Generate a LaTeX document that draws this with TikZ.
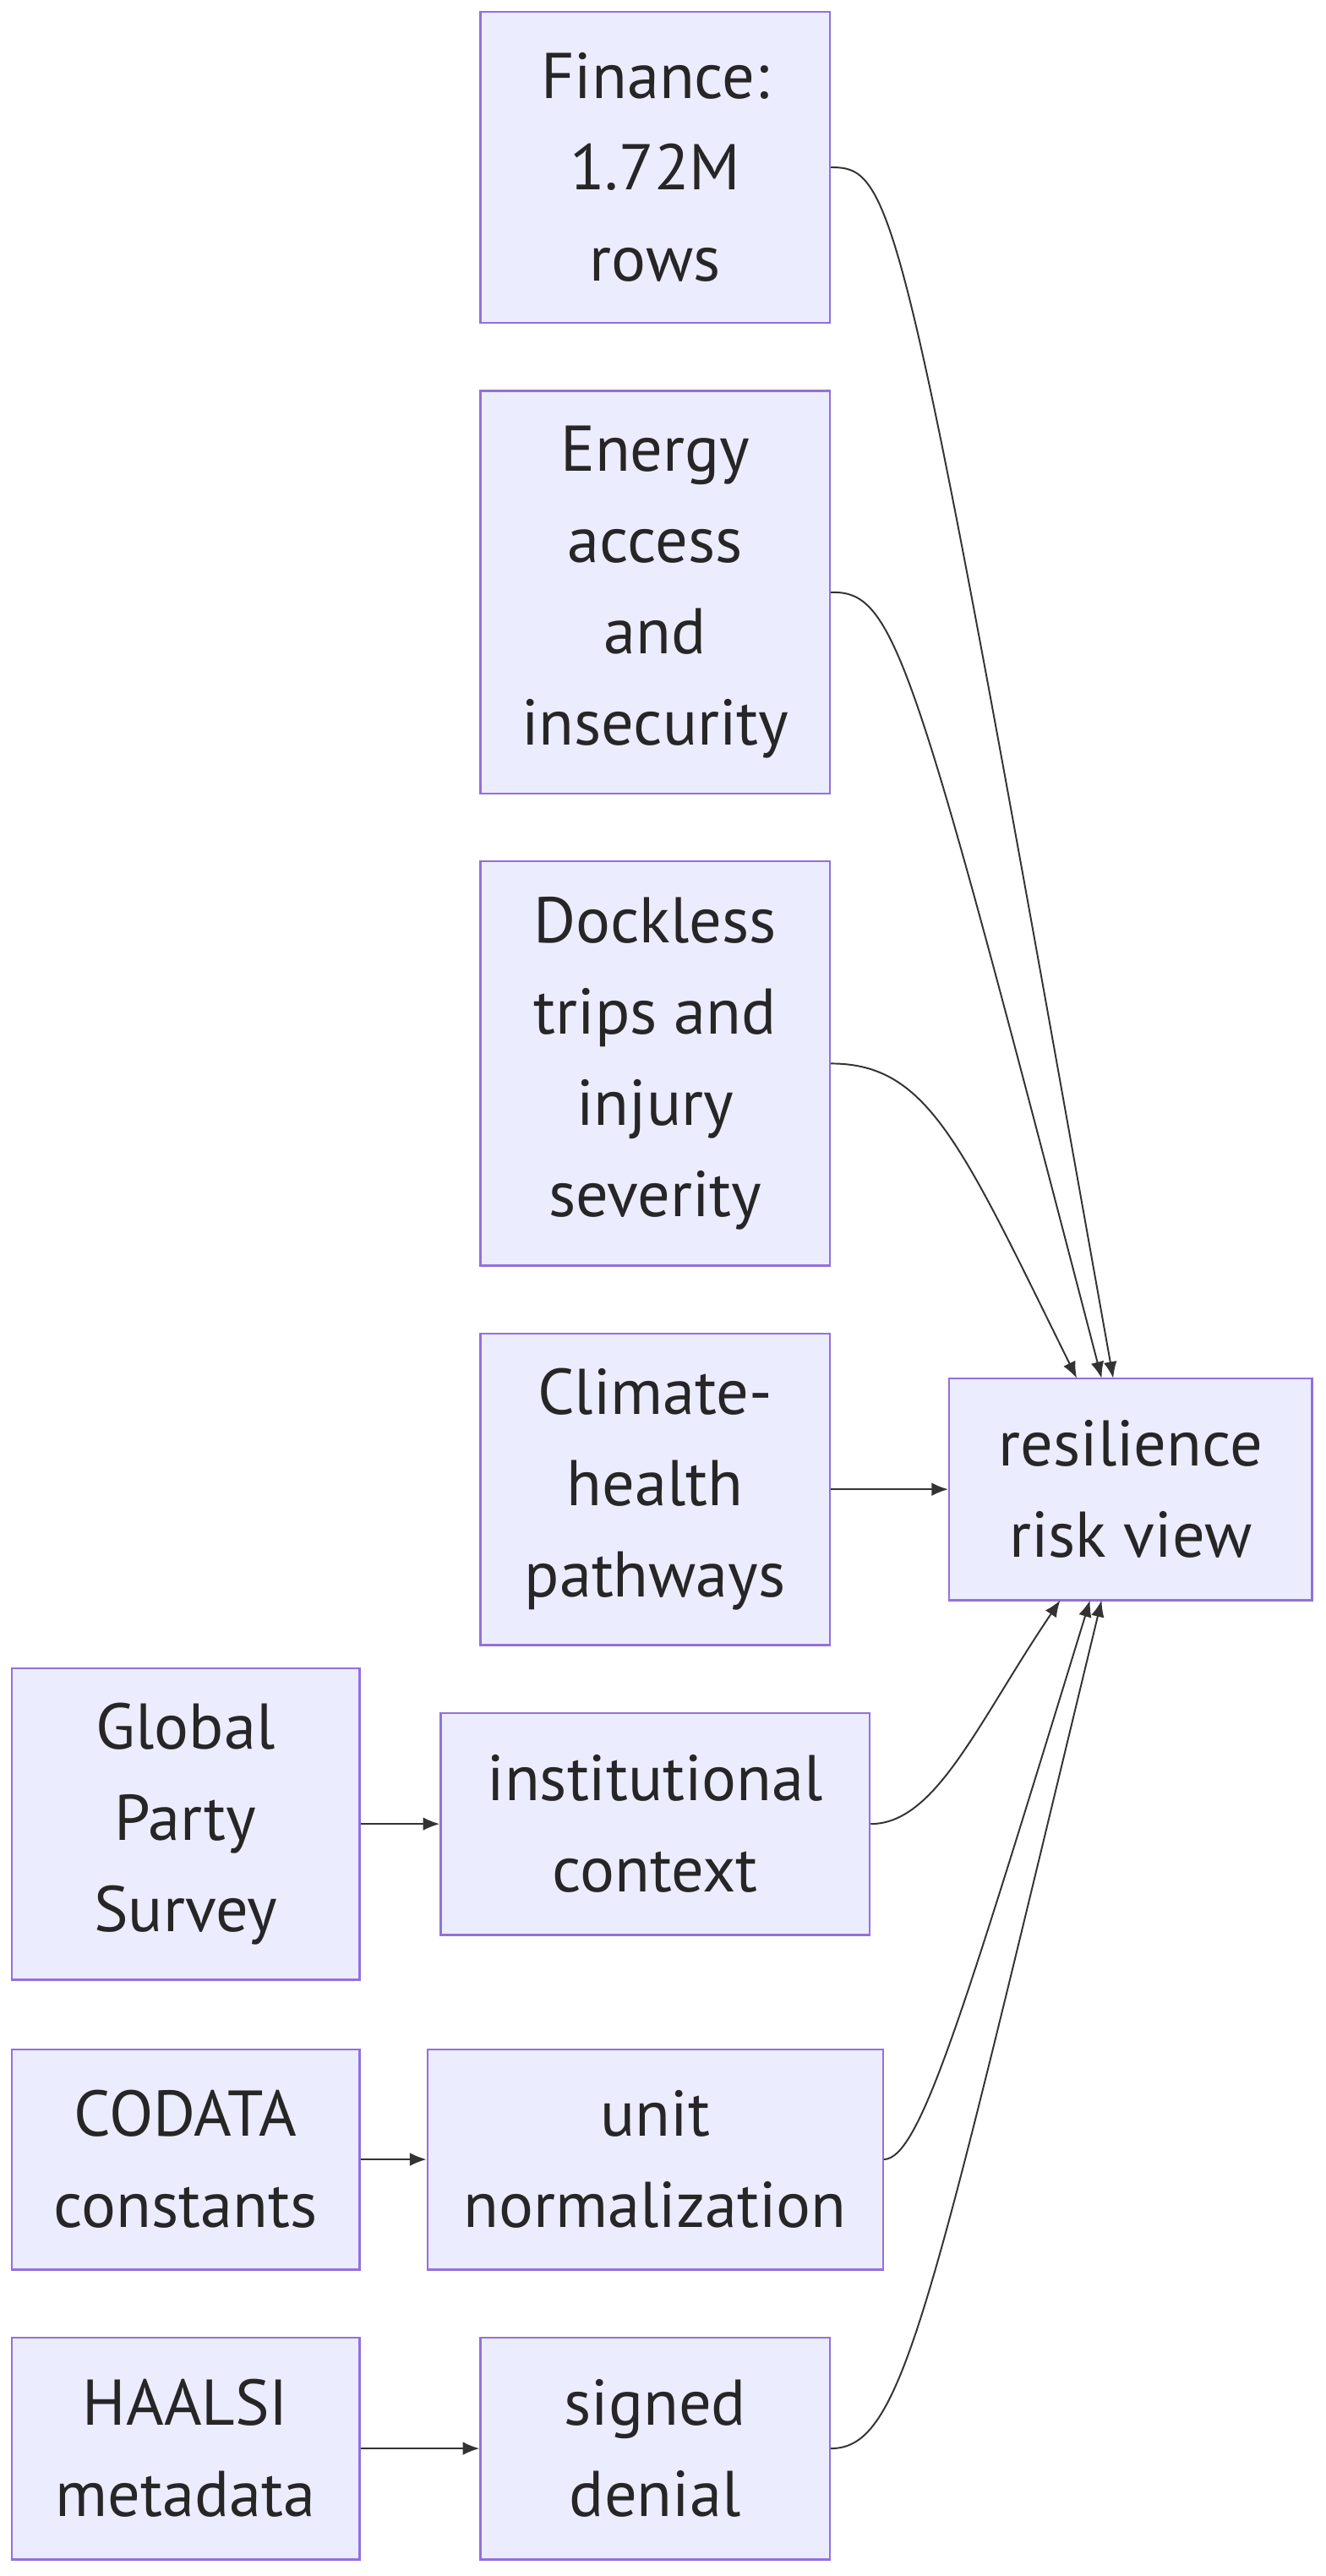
\documentclass[tikz,border=0pt]{standalone}
\usepackage{fontspec}
\setmainfont{PT Sans}
\usetikzlibrary{arrows.meta}
\definecolor{nfill}{HTML}{ECECFF}
\definecolor{nline}{HTML}{9370DB}
\definecolor{eline}{HTML}{333333}
\begin{document}
\begin{tikzpicture}[x=0.5pt,y=-0.5pt,
  box/.style={draw=nline,fill=nfill,line width=0.6pt,align=center,inner sep=0pt,
    font=\fontsize{19.5}{27.5}\selectfont,text=black!85},
  e/.style={draw=eline,line width=0.5pt,-{Latex[length=5pt,width=4pt]}}]
\useasboundingbox (0,0) rectangle (800,1555);
\newcommand\bx[6]{\node[box,minimum width=#4*0.5pt,minimum height=#5*0.5pt] (#1) at (#2,#3) {#6};}
\bx{fin}{395.5}{101}{211}{188}{Finance:\\1.72M\\rows}
\bx{ene}{395.5}{357.5}{211}{243}{Energy\\access\\and\\insecurity}
\bx{doc}{395.5}{642}{211}{244}{Dockless\\trips and\\injury\\severity}
\bx{cli}{395.5}{899}{211}{188}{Climate-\\health\\pathways}
\bx{res}{682.5}{899}{219}{134}{resilience\\risk view}
\bx{gps}{112}{1101}{210}{188}{Global\\Party\\Survey}
\bx{ins}{395.5}{1101}{259}{134}{institutional\\context}
\bx{cod}{112}{1303.5}{210}{133}{CODATA\\constants}
\bx{uni}{395.5}{1303.5}{275}{133}{unit\\normalization}
\bx{haa}{112}{1478}{210}{134}{HAALSI\\metadata}
\bx{sig}{395.5}{1478}{211}{134}{signed\\denial}
\coordinate (t1) at (672,832);
\coordinate (t2) at (665,832);
\coordinate (t3) at (650,832);
\coordinate (b1) at (640,966);
\coordinate (b2) at (658,966);
\coordinate (b3) at (665,966);
\draw[e] (fin.east) .. controls (540,101) and (545,120) .. (t1);
\draw[e] (ene.east) .. controls (540,357) and (550,390) .. (t2);
\draw[e] (doc.east) .. controls (560,642) and (580,690) .. (t3);
\draw[e] (cli.east) -- (res.west);
\draw[e] (ins.east) .. controls (565,1101) and (590,1040) .. (b1);
\draw[e] (uni.east) .. controls (555,1303) and (580,1220) .. (b2);
\draw[e] (sig.east) .. controls (545,1478) and (560,1400) .. (b3);
\draw[e] (gps.east) -- (ins.west);
\draw[e] (cod.east) -- (uni.west);
\draw[e] (haa.east) -- (sig.west);
\end{tikzpicture}
\end{document}
